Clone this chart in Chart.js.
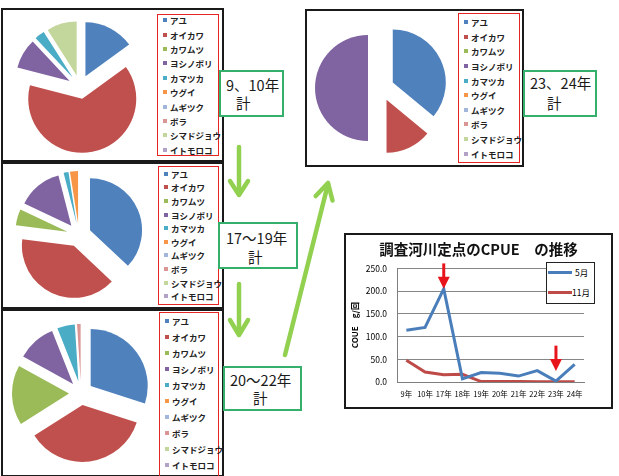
<!DOCTYPE html>
<html><head><meta charset="utf-8">
<script src="https://cdn.jsdelivr.net/npm/chart.js@4/dist/chart.umd.min.js"></script>
<style>
body{margin:0;background:#fff;font-family:'Noto Sans CJK JP',sans-serif;}
#root{position:relative;width:619px;height:476px;overflow:hidden;background:#fff;}
.abs{position:absolute;}
.panel{position:absolute;border:2px solid #1a1a1a;box-sizing:border-box;background:#fff;}
.leg{position:absolute;border:1.5px solid #e52521;box-sizing:border-box;}
.li{position:absolute;left:0;font-size:8.5px;font-weight:bold;color:#222;white-space:nowrap;line-height:10px;height:10px;}
.li i{position:absolute;left:5px;top:3px;width:4px;height:4px;}
.li span{position:absolute;left:12px;top:0;}
.gbox{position:absolute;border:2px solid #35b06c;box-sizing:border-box;background:#fff;}
.gbox div{position:absolute;font-size:14.5px;line-height:18px;color:#1a1a1a;white-space:nowrap;}
canvas{position:absolute;}
</style></head>
<body><div id="root">
<div class="panel" style="left:1px;top:8px;width:223px;height:154px"></div>
<div class="panel" style="left:1px;top:162px;width:223px;height:147px"></div>
<div class="panel" style="left:1px;top:309px;width:223px;height:168px"></div>
<div class="panel" style="left:305px;top:9px;width:219px;height:158px"></div>
<div class="panel" style="left:344px;top:233px;width:269px;height:176px"></div>

<canvas id="p1" width="132" height="132" style="left:14px;top:21px"></canvas>
<canvas id="p2" width="128" height="128" style="left:15px;top:171px"></canvas>
<canvas id="p3" width="138" height="138" style="left:12px;top:324px"></canvas>
<canvas id="p4" width="132" height="132" style="left:315px;top:22px"></canvas>
<canvas id="lc" width="265" height="172" style="left:346px;top:235px"></canvas>

<div id="l1" class="leg" style="left:157px;top:14px;width:62px;height:142px"></div>
<div id="l2" class="leg" style="left:158px;top:166px;width:61px;height:139px"></div>
<div id="l3" class="leg" style="left:159px;top:312px;width:60px;height:166px"></div>
<div id="l4" class="leg" style="left:458px;top:13px;width:62px;height:150px"></div>

<div class="gbox" style="left:219px;top:70px;width:65px;height:47px"><div style="left:5px;top:4px">9、10年</div><div style="left:15px;top:22px">計</div></div>
<div class="gbox" style="left:218px;top:222px;width:80px;height:47px"><div style="left:6px;top:5px">17～19年</div><div style="left:28px;top:24px">計</div></div>
<div class="gbox" style="left:223px;top:366px;width:79px;height:45px"><div style="left:5px;top:3px">20～22年</div><div style="left:28px;top:21px">計</div></div>
<div class="gbox" style="left:523px;top:70px;width:74px;height:47px"><div style="left:5px;top:2px">23、24年</div><div style="left:22px;top:22px">計</div></div>

<div id="lineLeg" class="abs" style="left:546px;top:262px;width:49px;height:42px;border:1.5px solid #222;box-sizing:border-box;background:#fff"></div>

<svg class="abs" style="left:0;top:0" width="619" height="476">
 <g stroke="#92d050" stroke-width="4.5" fill="none" stroke-linecap="round" stroke-linejoin="round">
  <line x1="239" y1="147" x2="239" y2="194"/>
  <polyline points="230,181 239,195 248,181"/>
  <line x1="239" y1="284" x2="239" y2="334"/>
  <polyline points="230,320 239,335 248,320"/>
  <line x1="285" y1="355" x2="328" y2="184"/>
  <polyline points="315.7,196 328,183 332.5,200.5"/>
 </g>
</svg>
</div>
<script>
// ---- data ----
const species = ['アユ','オイカワ','カワムツ','ヨシノボリ','カマツカ','ウグイ','ムギツク','ボラ','シマドジョウ','イトモロコ'];
const palette = ['#4f81bd','#c0504d','#9bbb59','#8064a2','#4bacc6','#f79646','#a2b6dc','#d99694','#c3d69b','#b3a2c7'];
const share9_10  = [15, 64, 0,  9, 3, 0,   0, 0, 9, 0];
const share17_19 = [37, 40, 5, 14, 1.5, 2.5, 0, 0, 0, 0];
const share20_22 = [30, 36, 17, 11, 5, 0,  0, 1, 0, 0];
const share23_24 = [36, 14, 0, 50, 0, 0,   0, 0, 0, 0];

const years = ['9年','10年','17年','18年','19年','20年','21年','22年','23年','24年'];
const cpueMay = [114, 120, 205, 7, 21, 19, 13, 25, 2, 39];
const cpueNov = [48, 22, 16, 17, 1, 1, 1, 0.5, 0.5, 0.5];
const seriesNames = ['5月','11月'];
const yTicks = [0, 50, 100, 150, 200, 250];
const arrowMarks = [{year:'17年', from:261, to:205}, {year:'23年', from:80, to:24}];

Chart.defaults.font.family = "'Noto Sans CJK JP', sans-serif";
Chart.defaults.color = '#000';

// exploded pie: draw each library arc shifted outward along its bisector
const explode = {
  id:'explode',
  beforeDatasetsDraw(chart, args, opts){
    const ctx = chart.ctx, d = opts.distance || 0;
    chart.getSortedVisibleDatasetMetas().forEach(meta=>{
      meta.data.forEach(arc=>{
        if (!arc.circumference) return;
        const mid = (arc.startAngle + arc.endAngle) / 2;
        ctx.save();
        ctx.translate(Math.cos(mid)*d, Math.sin(mid)*d);
        arc.draw(ctx);
        ctx.restore();
      });
    });
    return false;
  }
};

function pie(id, values, dist){
  new Chart(document.getElementById(id), {
    type:'pie',
    data:{labels:species, datasets:[{data:values, backgroundColor:palette, borderWidth:0, hoverOffset:0}]},
    options:{responsive:false, animation:false, events:[], layout:{padding:dist},
      plugins:{legend:{display:false}, tooltip:{enabled:false}, explode:{distance:dist}}},
    plugins:[explode]
  });
}
pie('p1', share9_10, 12);
pie('p2', share17_19, 12);
pie('p3', share20_22, 12);
pie('p4', share23_24, 13);

function legend(id, first, step){
  const el = document.getElementById(id);
  const top0 = el.getBoundingClientRect().top + 1.5;
  species.forEach((s,i)=>{
    const d = document.createElement('div');
    d.className='li';
    d.style.top = (first + i*step - 5 - top0) + 'px';
    d.innerHTML = '<i style="background:'+palette[i]+'"></i><span>'+s+'</span>';
    el.appendChild(d);
  });
}
legend('l1', 20.7, 14.4);
legend('l2', 174.3, 13.6);
legend('l3', 321, 16.1);
legend('l4', 22.7, 14.6);

// line legend
(function(){
  const el = document.getElementById('lineLeg');
  const cols = ['#4a7ebb','#be4b48'];
  seriesNames.forEach((n,i)=>{
    const y = i===0 ? 9 : 29;
    const ln = document.createElement('div');
    ln.style.cssText='position:absolute;left:1px;top:'+(y-1.5)+'px;width:24px;height:3px;background:'+cols[i];
    el.appendChild(ln);
    const t = document.createElement('div');
    t.style.cssText='position:absolute;left:'+(i===0?28:25)+'px;top:'+(y-6)+'px;font-size:8.5px;line-height:12px;color:#000';
    t.textContent=n;
    el.appendChild(t);
  });
})();

const arrowPlugin = {
  id:'redArrows',
  afterDatasetsDraw(chart){
    const {ctx, scales:{x,y}} = chart;
    ctx.save();
    ctx.fillStyle='#e8141b'; ctx.strokeStyle='#e8141b';
    arrowMarks.forEach(m=>{
      const px = x.getPixelForValue(years.indexOf(m.year));
      const y0 = y.getPixelForValue(m.from), y1 = y.getPixelForValue(m.to);
      ctx.lineWidth = 3;
      ctx.beginPath(); ctx.moveTo(px, y0); ctx.lineTo(px, y1-8); ctx.stroke();
      ctx.beginPath(); ctx.moveTo(px-6, y1-12); ctx.lineTo(px+6, y1-12); ctx.lineTo(px, y1); ctx.closePath(); ctx.fill();
    });
    ctx.restore();
  }
};

new Chart(document.getElementById('lc'), {
  type:'line',
  data:{labels:years, datasets:[
    {label:seriesNames[0], data:cpueMay, borderColor:'#4a7ebb', borderWidth:3, pointRadius:0, tension:0},
    {label:seriesNames[1], data:cpueNov, borderColor:'#be4b48', borderWidth:3, pointRadius:0, tension:0}
  ]},
  options:{responsive:false, animation:false, events:[],
    layout:{padding:0},
    plugins:{legend:{display:false}, tooltip:{enabled:false},
      title:{display:true, text:'調査河川定点のCPUE　の推移', font:{size:14.5, weight:'bold'}, color:'#111', padding:{top:6,bottom:10}}},
    scales:{
      x:{offset:true, grid:{display:false, drawTicks:false}, border:{color:'#7f7f7f'},
         ticks:{font:{size:7.5}, color:'#000', maxRotation:0, autoSkip:false, padding:8}},
      y:{min:0, max:250, afterFit:(s)=>{s.width=51;},
         afterBuildTicks:(s)=>{s.ticks = yTicks.map(v=>({value:v}));},
         ticks:{callback:(v)=>Number(v).toFixed(1), font:{size:8.5}, color:'#000', padding:10},
         grid:{color:'#868686', drawTicks:false}, border:{color:'#7f7f7f'},
         title:{display:true, text:'COUE　g/回', font:{size:8, weight:'bold'}, color:'#000', padding:{top:4,bottom:0}}},
      spacer:{type:'linear', position:'right', display:true, afterFit:(s)=>{s.width=27;},
         grid:{display:false, drawTicks:false}, border:{display:false}, ticks:{display:false}}
    }
  },
  plugins:[arrowPlugin]
});
</script>
</body></html>
